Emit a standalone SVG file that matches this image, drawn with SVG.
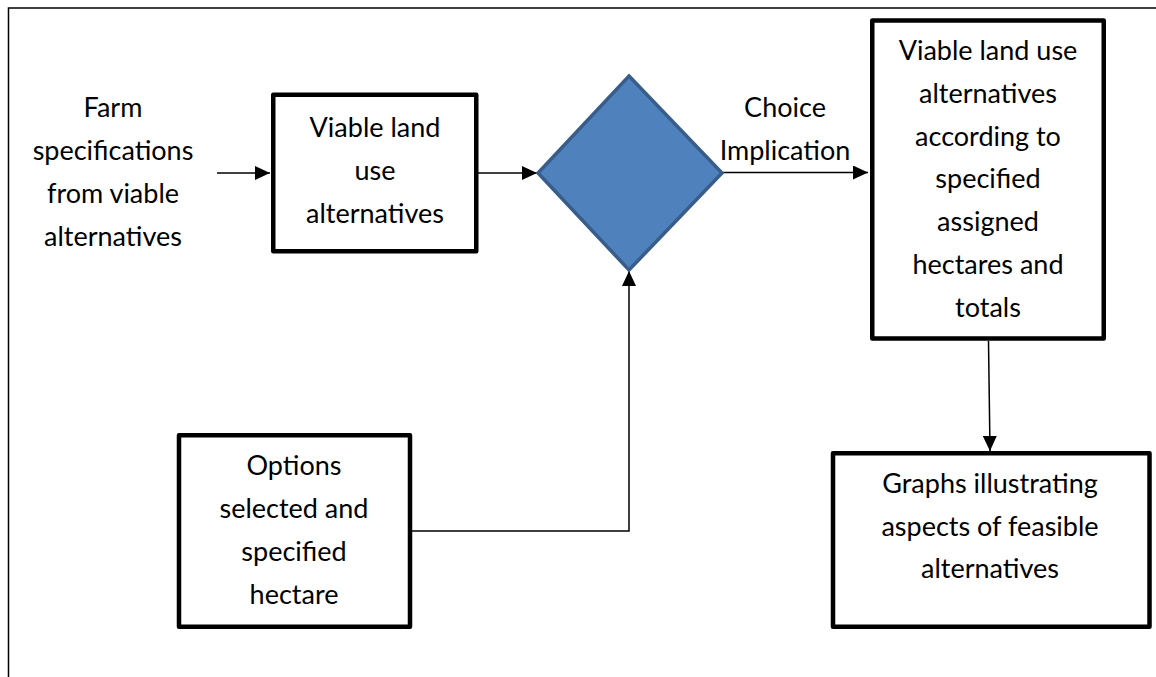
<svg xmlns="http://www.w3.org/2000/svg" width="1156" height="677" viewBox="0 0 1156 677">
  <defs>
    <style>
      .box { fill: #ffffff; stroke: #000000; stroke-width: 4.5; stroke-linejoin: round; }
      .lbl { font-family: Lato, "Open Sans", sans-serif; font-size: 27px; fill: #000000; text-anchor: middle; }
      .wire { fill: none; stroke: #000000; stroke-width: 1.5; }
      .frame { fill: none; stroke: #000000; stroke-width: 1.5; }
    </style>
    <marker id="arrow" viewBox="0 0 10 10" refX="10" refY="5" markerWidth="15" markerHeight="14" markerUnits="userSpaceOnUse" orient="auto" preserveAspectRatio="none">
      <path d="M0,0 L10,5 L0,10 z" fill="#000000"/>
    </marker>
  </defs>

  <rect width="1156" height="677" fill="#ffffff"/>

  <!-- page frame: top and left rules only -->
  <path class="frame" d="M8.5,677 L8.5,8 L1156,8"/>

  <!-- connectors -->
  <g id="connectors">
    <line class="wire" x1="217" y1="173" x2="270" y2="173" marker-end="url(#arrow)"/>
    <line class="wire" x1="478" y1="173" x2="537" y2="173" marker-end="url(#arrow)"/>
    <line class="wire" x1="723" y1="172.5" x2="868" y2="172.5" marker-end="url(#arrow)"/>
    <polyline class="wire" points="412,531 629,531 629,271" marker-end="url(#arrow)"/>
    <line class="wire" x1="988.5" y1="341" x2="990" y2="451" marker-end="url(#arrow)"/>
  </g>

  <!-- free-standing input label -->
  <g id="farm-specs">
    <text class="lbl" x="113" y="117">Farm</text>
    <text class="lbl" x="113" y="160">specifications</text>
    <text class="lbl" x="113" y="203">from viable</text>
    <text class="lbl" x="113" y="246">alternatives</text>
  </g>

  <g id="viable-land-use">
    <rect class="box" x="273.25" y="94.75" width="203" height="156.5"/>
    <text class="lbl" x="375" y="137">Viable land</text>
    <text class="lbl" x="375" y="180">use</text>
    <text class="lbl" x="375" y="223">alternatives</text>
  </g>

  <g id="decision">
    <polygon points="629,76 722,173 629,270 538,173" fill="#4F81BD" stroke="#385D8A" stroke-width="3.5" stroke-linejoin="miter"/>
  </g>

  <g id="choice-label">
    <text class="lbl" x="785" y="117">Choice</text>
    <text class="lbl" x="785" y="160">Implication</text>
  </g>

  <g id="assigned-alternatives">
    <rect class="box" x="872.25" y="20.5" width="231.5" height="318"/>
    <text class="lbl" x="988" y="60">Viable land use</text>
    <text class="lbl" x="988" y="103">alternatives</text>
    <text class="lbl" x="988" y="146">according to</text>
    <text class="lbl" x="988" y="188">specified</text>
    <text class="lbl" x="988" y="231">assigned</text>
    <text class="lbl" x="988" y="274">hectares and</text>
    <text class="lbl" x="988" y="317">totals</text>
  </g>

  <g id="options-selected">
    <rect class="box" x="179" y="435.25" width="231" height="191.5"/>
    <text class="lbl" x="294" y="475">Options</text>
    <text class="lbl" x="294" y="518">selected and</text>
    <text class="lbl" x="294" y="561">specified</text>
    <text class="lbl" x="294" y="604">hectare</text>
  </g>

  <g id="graphs">
    <rect class="box" x="833" y="453.25" width="316.5" height="173.5"/>
    <text class="lbl" x="990" y="493">Graphs illustrating</text>
    <text class="lbl" x="990" y="536">aspects of feasible</text>
    <text class="lbl" x="990" y="578">alternatives</text>
  </g>
</svg>
